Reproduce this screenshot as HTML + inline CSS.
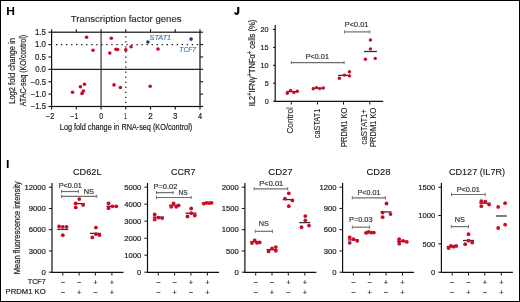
<!DOCTYPE html>
<html><head><meta charset="utf-8"><title>Figure</title>
<style>
html,body{margin:0;padding:0;background:#fff;}
body{width:520px;height:302px;overflow:hidden;}
svg{display:block;font-family:"Liberation Sans", sans-serif;will-change:transform;}
</style></head>
<body>
<svg width="520" height="302" viewBox="0 0 520 302">
<rect x="0.5" y="0.5" width="519" height="301" fill="#fff" stroke="#000" stroke-width="1"/>
<text x="6.17" y="14.80" font-size="10.8" fill="#000" textLength="8.69" lengthAdjust="spacingAndGlyphs" font-weight="bold">H</text>
<text x="70.86" y="22.00" font-size="9.6" fill="#222" textLength="110.72" lengthAdjust="spacingAndGlyphs" stroke="#222" stroke-width="0.1">Transcription factor genes</text>
<line x1="56.0" y1="44.58" x2="200" y2="44.58" stroke="#111" stroke-width="1.25" stroke-dasharray="1.25 3.78"/>
<line x1="125.80" y1="36.2" x2="125.80" y2="106" stroke="#111" stroke-width="1.25" stroke-dasharray="1.25 3.8"/>
<line x1="51.60" y1="69.35" x2="200.00" y2="69.35" stroke="#222" stroke-width="1.1"/>
<line x1="101.07" y1="32.20" x2="101.07" y2="106.50" stroke="#222" stroke-width="1.1"/>
<rect x="51.6" y="32.2" width="148.4" height="74.3" fill="none" stroke="#111" stroke-width="1.2"/>
<line x1="48.40" y1="32.19" x2="51.60" y2="32.19" stroke="#111" stroke-width="1.1"/>
<line x1="200.00" y1="32.19" x2="203.10" y2="32.19" stroke="#111" stroke-width="1.1"/>
<line x1="48.40" y1="44.58" x2="51.60" y2="44.58" stroke="#111" stroke-width="1.1"/>
<line x1="200.00" y1="44.58" x2="203.10" y2="44.58" stroke="#111" stroke-width="1.1"/>
<line x1="48.40" y1="56.96" x2="51.60" y2="56.96" stroke="#111" stroke-width="1.1"/>
<line x1="200.00" y1="56.96" x2="203.10" y2="56.96" stroke="#111" stroke-width="1.1"/>
<line x1="48.40" y1="69.35" x2="51.60" y2="69.35" stroke="#111" stroke-width="1.1"/>
<line x1="200.00" y1="69.35" x2="203.10" y2="69.35" stroke="#111" stroke-width="1.1"/>
<line x1="48.40" y1="81.73" x2="51.60" y2="81.73" stroke="#111" stroke-width="1.1"/>
<line x1="200.00" y1="81.73" x2="203.10" y2="81.73" stroke="#111" stroke-width="1.1"/>
<line x1="48.40" y1="94.12" x2="51.60" y2="94.12" stroke="#111" stroke-width="1.1"/>
<line x1="200.00" y1="94.12" x2="203.10" y2="94.12" stroke="#111" stroke-width="1.1"/>
<line x1="48.40" y1="106.50" x2="51.60" y2="106.50" stroke="#111" stroke-width="1.1"/>
<line x1="200.00" y1="106.50" x2="203.10" y2="106.50" stroke="#111" stroke-width="1.1"/>
<line x1="51.60" y1="106.50" x2="51.60" y2="109.60" stroke="#111" stroke-width="1.1"/>
<line x1="51.60" y1="29.20" x2="51.60" y2="32.20" stroke="#111" stroke-width="1.1"/>
<line x1="76.33" y1="106.50" x2="76.33" y2="109.60" stroke="#111" stroke-width="1.1"/>
<line x1="76.33" y1="29.20" x2="76.33" y2="32.20" stroke="#111" stroke-width="1.1"/>
<line x1="101.07" y1="106.50" x2="101.07" y2="109.60" stroke="#111" stroke-width="1.1"/>
<line x1="101.07" y1="29.20" x2="101.07" y2="32.20" stroke="#111" stroke-width="1.1"/>
<line x1="125.80" y1="106.50" x2="125.80" y2="109.60" stroke="#111" stroke-width="1.1"/>
<line x1="125.80" y1="29.20" x2="125.80" y2="32.20" stroke="#111" stroke-width="1.1"/>
<line x1="150.53" y1="106.50" x2="150.53" y2="109.60" stroke="#111" stroke-width="1.1"/>
<line x1="150.53" y1="29.20" x2="150.53" y2="32.20" stroke="#111" stroke-width="1.1"/>
<line x1="175.27" y1="106.50" x2="175.27" y2="109.60" stroke="#111" stroke-width="1.1"/>
<line x1="175.27" y1="29.20" x2="175.27" y2="32.20" stroke="#111" stroke-width="1.1"/>
<line x1="200.00" y1="106.50" x2="200.00" y2="109.60" stroke="#111" stroke-width="1.1"/>
<line x1="200.00" y1="29.20" x2="200.00" y2="32.20" stroke="#111" stroke-width="1.1"/>
<text x="34.96" y="35.04" font-size="8.5" fill="#222" textLength="11.01" lengthAdjust="spacingAndGlyphs" stroke="#222" stroke-width="0.2">1.5</text>
<text x="34.96" y="47.43" font-size="8.5" fill="#222" textLength="11.01" lengthAdjust="spacingAndGlyphs" stroke="#222" stroke-width="0.2">1.0</text>
<text x="35.04" y="59.81" font-size="8.5" fill="#222" textLength="10.93" lengthAdjust="spacingAndGlyphs" stroke="#222" stroke-width="0.2">0.5</text>
<text x="35.14" y="72.20" font-size="8.5" fill="#222" textLength="10.82" lengthAdjust="spacingAndGlyphs" stroke="#222" stroke-width="0.2">0.0</text>
<text x="30.77" y="84.58" font-size="8.5" fill="#222" textLength="15.19" lengthAdjust="spacingAndGlyphs" stroke="#222" stroke-width="0.2">−0.5</text>
<text x="30.77" y="96.97" font-size="8.5" fill="#222" textLength="15.19" lengthAdjust="spacingAndGlyphs" stroke="#222" stroke-width="0.2">−1.0</text>
<text x="30.77" y="109.35" font-size="8.5" fill="#222" textLength="15.19" lengthAdjust="spacingAndGlyphs" stroke="#222" stroke-width="0.2">−1.5</text>
<text x="45.77" y="118.80" font-size="8.5" fill="#222" textLength="8.55" lengthAdjust="spacingAndGlyphs" stroke="#222" stroke-width="0.2">−2</text>
<text x="70.50" y="118.80" font-size="8.5" fill="#222" textLength="7.89" lengthAdjust="spacingAndGlyphs" stroke="#222" stroke-width="0.2">−1</text>
<text x="99.17" y="118.80" font-size="8.5" fill="#222" textLength="3.86" lengthAdjust="spacingAndGlyphs" stroke="#222" stroke-width="0.2">0</text>
<text x="124.32" y="118.80" font-size="8.5" fill="#222" textLength="2.46" lengthAdjust="spacingAndGlyphs" stroke="#222" stroke-width="0.2">1</text>
<text x="148.34" y="118.80" font-size="8.5" fill="#222" textLength="4.52" lengthAdjust="spacingAndGlyphs" stroke="#222" stroke-width="0.2">2</text>
<text x="172.94" y="118.80" font-size="8.5" fill="#222" textLength="4.38" lengthAdjust="spacingAndGlyphs" stroke="#222" stroke-width="0.2">3</text>
<text x="197.97" y="118.80" font-size="8.5" fill="#222" textLength="4.12" lengthAdjust="spacingAndGlyphs" stroke="#222" stroke-width="0.2">4</text>
<text x="59.87" y="129.90" font-size="8.7" fill="#222" textLength="132.33" lengthAdjust="spacingAndGlyphs" stroke="#222" stroke-width="0.2">Log fold change in RNA-seq (KO/control)</text>
<text transform="translate(15.00,103.75) rotate(-90)" font-size="8.7" fill="#222" textLength="65.69" lengthAdjust="spacingAndGlyphs" stroke="#222" stroke-width="0.2">Log2 fold change in</text>
<text transform="translate(25.90,106.19) rotate(-90)" font-size="8.7" fill="#222" textLength="71.37" lengthAdjust="spacingAndGlyphs" stroke="#222" stroke-width="0.2">ATAC-seq (KO/control)</text>
<circle cx="86.60" cy="37.30" r="1.8" fill="#cc0a28"/>
<circle cx="93.00" cy="50.30" r="1.8" fill="#cc0a28"/>
<circle cx="111.30" cy="38.30" r="1.8" fill="#cc0a28"/>
<circle cx="109.80" cy="53.10" r="1.8" fill="#cc0a28"/>
<circle cx="115.90" cy="49.20" r="1.8" fill="#cc0a28"/>
<circle cx="117.60" cy="49.50" r="1.8" fill="#cc0a28"/>
<circle cx="125.80" cy="49.90" r="1.8" fill="#cc0a28"/>
<circle cx="131.10" cy="46.80" r="1.8" fill="#cc0a28"/>
<circle cx="158.00" cy="49.10" r="1.8" fill="#cc0a28"/>
<circle cx="72.50" cy="92.20" r="1.8" fill="#cc0a28"/>
<circle cx="80.40" cy="86.80" r="1.8" fill="#cc0a28"/>
<circle cx="84.50" cy="84.20" r="1.8" fill="#cc0a28"/>
<circle cx="83.40" cy="91.10" r="1.8" fill="#cc0a28"/>
<circle cx="82.00" cy="93.40" r="1.8" fill="#cc0a28"/>
<circle cx="114.00" cy="84.90" r="1.8" fill="#cc0a28"/>
<circle cx="120.40" cy="87.50" r="1.8" fill="#cc0a28"/>
<circle cx="150.20" cy="86.30" r="1.8" fill="#cc0a28"/>
<circle cx="147.90" cy="42.00" r="1.8" fill="#0d3f87"/>
<circle cx="191.10" cy="39.10" r="1.8" fill="#0d3f87"/>
<text x="149.53" y="39.90" font-size="7.8" fill="#3a74b6" textLength="21.67" lengthAdjust="spacingAndGlyphs" font-style="italic" stroke="#3a74b6" stroke-width="0.15">STAT1</text>
<text x="179.35" y="52.40" font-size="7.8" fill="#3a74b6" textLength="16.70" lengthAdjust="spacingAndGlyphs" font-style="italic" stroke="#3a74b6" stroke-width="0.15">TCF7</text>
<path d="M238.25 7.1 V12.1 Q238.25 13.85 236.45 13.85 Q235.3 13.85 234.95 12.5" fill="none" stroke="#000" stroke-width="2.1"/>
<line x1="275.20" y1="24.90" x2="275.20" y2="101.90" stroke="#111" stroke-width="1.2"/>
<line x1="274.60" y1="101.30" x2="383.20" y2="101.30" stroke="#111" stroke-width="1.2"/>
<line x1="273.00" y1="101.20" x2="275.20" y2="101.20" stroke="#111" stroke-width="1.0"/>
<text x="264.63" y="103.80" font-size="7.6" fill="#222" textLength="4.02" lengthAdjust="spacingAndGlyphs" stroke="#222" stroke-width="0.2">0</text>
<line x1="273.00" y1="83.28" x2="275.20" y2="83.28" stroke="#111" stroke-width="1.0"/>
<text x="264.63" y="85.88" font-size="7.6" fill="#222" textLength="4.02" lengthAdjust="spacingAndGlyphs" stroke="#222" stroke-width="0.2">5</text>
<line x1="273.00" y1="65.35" x2="275.20" y2="65.35" stroke="#111" stroke-width="1.0"/>
<text x="260.62" y="67.95" font-size="7.6" fill="#222" textLength="8.03" lengthAdjust="spacingAndGlyphs" stroke="#222" stroke-width="0.2">10</text>
<line x1="273.00" y1="47.43" x2="275.20" y2="47.43" stroke="#111" stroke-width="1.0"/>
<text x="260.62" y="50.03" font-size="7.6" fill="#222" textLength="8.03" lengthAdjust="spacingAndGlyphs" stroke="#222" stroke-width="0.2">15</text>
<line x1="273.00" y1="29.50" x2="275.20" y2="29.50" stroke="#111" stroke-width="1.0"/>
<text x="260.62" y="32.10" font-size="7.6" fill="#222" textLength="8.03" lengthAdjust="spacingAndGlyphs" stroke="#222" stroke-width="0.2">20</text>
<line x1="291.30" y1="101.30" x2="291.30" y2="104.50" stroke="#111" stroke-width="1.0"/>
<line x1="317.50" y1="101.30" x2="317.50" y2="104.50" stroke="#111" stroke-width="1.0"/>
<line x1="343.50" y1="101.30" x2="343.50" y2="104.50" stroke="#111" stroke-width="1.0"/>
<line x1="369.80" y1="101.30" x2="369.80" y2="104.50" stroke="#111" stroke-width="1.0"/>
<line x1="286.30" y1="91.60" x2="298.00" y2="91.60" stroke="#333" stroke-width="1.3"/>
<line x1="312.00" y1="88.30" x2="324.50" y2="88.30" stroke="#333" stroke-width="1.3"/>
<line x1="338.00" y1="75.40" x2="350.50" y2="75.40" stroke="#333" stroke-width="1.3"/>
<line x1="364.00" y1="51.50" x2="376.90" y2="51.50" stroke="#333" stroke-width="1.3"/>
<circle cx="287.30" cy="93.30" r="1.7" fill="#cc0a28"/>
<circle cx="290.60" cy="90.50" r="1.7" fill="#cc0a28"/>
<circle cx="293.90" cy="92.40" r="1.7" fill="#cc0a28"/>
<circle cx="297.30" cy="91.20" r="1.7" fill="#cc0a28"/>
<circle cx="313.30" cy="88.80" r="1.7" fill="#cc0a28"/>
<circle cx="316.50" cy="87.60" r="1.7" fill="#cc0a28"/>
<circle cx="319.80" cy="88.60" r="1.7" fill="#cc0a28"/>
<circle cx="323.30" cy="88.00" r="1.7" fill="#cc0a28"/>
<circle cx="339.40" cy="78.20" r="1.7" fill="#cc0a28"/>
<circle cx="344.40" cy="75.10" r="1.7" fill="#cc0a28"/>
<circle cx="349.40" cy="71.70" r="1.7" fill="#cc0a28"/>
<circle cx="349.40" cy="75.90" r="1.7" fill="#cc0a28"/>
<circle cx="370.40" cy="40.00" r="1.7" fill="#cc0a28"/>
<circle cx="370.40" cy="48.90" r="1.7" fill="#cc0a28"/>
<circle cx="365.40" cy="59.20" r="1.7" fill="#cc0a28"/>
<circle cx="375.20" cy="58.40" r="1.7" fill="#cc0a28"/>
<line x1="291.30" y1="62.60" x2="344.10" y2="62.60" stroke="#707070" stroke-width="1.2"/>
<line x1="291.30" y1="61.00" x2="291.30" y2="64.20" stroke="#707070" stroke-width="1.0"/>
<line x1="344.10" y1="61.00" x2="344.10" y2="64.20" stroke="#707070" stroke-width="1.0"/>
<text x="305.77" y="58.80" font-size="7.6" fill="#333" textLength="23.16" lengthAdjust="spacingAndGlyphs" stroke="#333" stroke-width="0.2">P&lt;0.01</text>
<line x1="344.40" y1="31.90" x2="369.80" y2="31.90" stroke="#707070" stroke-width="1.2"/>
<line x1="344.40" y1="30.30" x2="344.40" y2="33.50" stroke="#707070" stroke-width="1.0"/>
<line x1="369.80" y1="30.30" x2="369.80" y2="33.50" stroke="#707070" stroke-width="1.0"/>
<text x="344.76" y="27.40" font-size="7.6" fill="#333" textLength="23.68" lengthAdjust="spacingAndGlyphs" stroke="#333" stroke-width="0.2">P&lt;0.01</text>
<text transform="translate(293.30,133.56) rotate(-90)" font-size="8.3" fill="#222" textLength="26.37" lengthAdjust="spacingAndGlyphs" stroke="#222" stroke-width="0.1">Control</text>
<text transform="translate(320.00,138.28) rotate(-90)" font-size="8.3" fill="#222" textLength="29.60" lengthAdjust="spacingAndGlyphs" stroke="#222" stroke-width="0.1">caSTAT1</text>
<text transform="translate(346.90,146.95) rotate(-90)" font-size="8.3" fill="#222" textLength="39.26" lengthAdjust="spacingAndGlyphs" stroke="#222" stroke-width="0.1">PRDM1 KO</text>
<text transform="translate(366.60,144.39) rotate(-90)" font-size="8.3" fill="#222" textLength="35.22" lengthAdjust="spacingAndGlyphs" stroke="#222" stroke-width="0.1">caSTAT1+</text>
<text transform="translate(375.70,146.95) rotate(-90)" font-size="8.3" fill="#222" textLength="39.26" lengthAdjust="spacingAndGlyphs" stroke="#222" stroke-width="0.1">PRDM1 KO</text>
<text transform="translate(254.90,106.20) rotate(-90)" font-size="9.6" fill="#222" textLength="86.40" lengthAdjust="spacingAndGlyphs" stroke="#222" stroke-width="0.2">IL2<tspan font-size="7.2" dy="-3.0">+</tspan><tspan dy="3.0">IFNγ</tspan><tspan font-size="7.2" dy="-3.0">+</tspan><tspan dy="3.0">TNFα</tspan><tspan font-size="7.2" dy="-3.0">+</tspan><tspan dy="3.0"> cells (%)</tspan></text>
<text x="6.04" y="167.80" font-size="10.8" fill="#000" textLength="3.45" lengthAdjust="spacingAndGlyphs" font-weight="bold">I</text>
<text transform="translate(20.00,274.15) rotate(-90)" font-size="8.2" fill="#222" textLength="92.94" lengthAdjust="spacingAndGlyphs" stroke="#222" stroke-width="0.2">Mean fluorescence intensity</text>
<text x="27.81" y="283.90" font-size="7.6" fill="#222" textLength="17.90" lengthAdjust="spacingAndGlyphs" stroke="#222" stroke-width="0.2">TCF7</text>
<text x="5.64" y="294.00" font-size="7.6" fill="#222" textLength="40.08" lengthAdjust="spacingAndGlyphs" stroke="#222" stroke-width="0.2">PRDM1 KO</text>
<text x="72.99" y="175.40" font-size="9.8" fill="#111" textLength="28.56" lengthAdjust="spacingAndGlyphs" stroke="#111" stroke-width="0.1">CD62L</text>
<line x1="52.00" y1="183.00" x2="52.00" y2="272.80" stroke="#111" stroke-width="1.2"/>
<line x1="51.40" y1="272.40" x2="123.50" y2="272.40" stroke="#111" stroke-width="1.2"/>
<line x1="48.90" y1="272.20" x2="52.00" y2="272.20" stroke="#111" stroke-width="1.0"/>
<text x="41.60" y="274.95" font-size="7.9" fill="#222" textLength="4.26" lengthAdjust="spacingAndGlyphs" stroke="#222" stroke-width="0.2">0</text>
<line x1="48.90" y1="250.95" x2="52.00" y2="250.95" stroke="#111" stroke-width="1.0"/>
<text x="28.81" y="253.70" font-size="7.9" fill="#222" textLength="17.05" lengthAdjust="spacingAndGlyphs" stroke="#222" stroke-width="0.2">3000</text>
<line x1="48.90" y1="229.70" x2="52.00" y2="229.70" stroke="#111" stroke-width="1.0"/>
<text x="28.81" y="232.45" font-size="7.9" fill="#222" textLength="17.05" lengthAdjust="spacingAndGlyphs" stroke="#222" stroke-width="0.2">6000</text>
<line x1="48.90" y1="208.45" x2="52.00" y2="208.45" stroke="#111" stroke-width="1.0"/>
<text x="28.81" y="211.20" font-size="7.9" fill="#222" textLength="17.05" lengthAdjust="spacingAndGlyphs" stroke="#222" stroke-width="0.2">9000</text>
<line x1="48.90" y1="187.20" x2="52.00" y2="187.20" stroke="#111" stroke-width="1.0"/>
<text x="24.55" y="189.95" font-size="7.9" fill="#222" textLength="21.31" lengthAdjust="spacingAndGlyphs" stroke="#222" stroke-width="0.2">12000</text>
<line x1="62.80" y1="272.20" x2="62.80" y2="275.50" stroke="#111" stroke-width="1.0"/>
<text x="62.80" y="284.60" font-size="7.4" text-anchor="middle" fill="#333" stroke="#333" stroke-width="0.2">−</text>
<text x="62.80" y="295.30" font-size="7.4" text-anchor="middle" fill="#333" stroke="#333" stroke-width="0.2">−</text>
<line x1="79.10" y1="272.20" x2="79.10" y2="275.50" stroke="#111" stroke-width="1.0"/>
<text x="79.10" y="284.60" font-size="7.4" text-anchor="middle" fill="#333" stroke="#333" stroke-width="0.2">−</text>
<text x="79.10" y="295.30" font-size="7.4" text-anchor="middle" fill="#333" stroke="#333" stroke-width="0.2">+</text>
<line x1="95.40" y1="272.20" x2="95.40" y2="275.50" stroke="#111" stroke-width="1.0"/>
<text x="95.40" y="284.60" font-size="7.4" text-anchor="middle" fill="#333" stroke="#333" stroke-width="0.2">+</text>
<text x="95.40" y="295.30" font-size="7.4" text-anchor="middle" fill="#333" stroke="#333" stroke-width="0.2">−</text>
<line x1="111.90" y1="272.20" x2="111.90" y2="275.50" stroke="#111" stroke-width="1.0"/>
<text x="111.90" y="284.60" font-size="7.4" text-anchor="middle" fill="#333" stroke="#333" stroke-width="0.2">+</text>
<text x="111.90" y="295.30" font-size="7.4" text-anchor="middle" fill="#333" stroke="#333" stroke-width="0.2">+</text>
<line x1="57.30" y1="229.40" x2="68.30" y2="229.40" stroke="#333" stroke-width="1.3"/>
<line x1="73.60" y1="203.60" x2="84.60" y2="203.60" stroke="#333" stroke-width="1.3"/>
<line x1="89.90" y1="233.40" x2="100.90" y2="233.40" stroke="#333" stroke-width="1.3"/>
<line x1="106.40" y1="206.30" x2="117.40" y2="206.30" stroke="#333" stroke-width="1.3"/>
<circle cx="59.10" cy="226.50" r="1.9" fill="#cc0a28"/>
<circle cx="62.80" cy="226.80" r="1.9" fill="#cc0a28"/>
<circle cx="66.60" cy="226.80" r="1.9" fill="#cc0a28"/>
<circle cx="62.80" cy="235.20" r="1.9" fill="#cc0a28"/>
<circle cx="79.30" cy="199.10" r="1.9" fill="#cc0a28"/>
<circle cx="75.70" cy="203.30" r="1.9" fill="#cc0a28"/>
<circle cx="83.10" cy="204.90" r="1.9" fill="#cc0a28"/>
<circle cx="75.70" cy="207.40" r="1.9" fill="#cc0a28"/>
<circle cx="95.90" cy="227.60" r="1.9" fill="#cc0a28"/>
<circle cx="95.90" cy="234.20" r="1.9" fill="#cc0a28"/>
<circle cx="99.40" cy="235.10" r="1.9" fill="#cc0a28"/>
<circle cx="92.30" cy="237.40" r="1.9" fill="#cc0a28"/>
<circle cx="108.50" cy="203.30" r="1.9" fill="#cc0a28"/>
<circle cx="108.50" cy="208.20" r="1.9" fill="#cc0a28"/>
<circle cx="112.40" cy="206.30" r="1.9" fill="#cc0a28"/>
<circle cx="116.30" cy="206.30" r="1.9" fill="#cc0a28"/>
<text x="58.67" y="187.60" font-size="7.6" fill="#333" textLength="23.16" lengthAdjust="spacingAndGlyphs" stroke="#333" stroke-width="0.2">P&lt;0.01</text>
<line x1="61.50" y1="191.50" x2="78.40" y2="191.50" stroke="#707070" stroke-width="1.2"/>
<line x1="61.50" y1="189.90" x2="61.50" y2="193.10" stroke="#707070" stroke-width="1.0"/>
<line x1="78.40" y1="189.90" x2="78.40" y2="193.10" stroke="#707070" stroke-width="1.0"/>
<text x="83.65" y="193.70" font-size="7.6" fill="#333" textLength="10.36" lengthAdjust="spacingAndGlyphs" stroke="#333" stroke-width="0.2">NS</text>
<line x1="61.50" y1="196.30" x2="96.80" y2="196.30" stroke="#707070" stroke-width="1.2"/>
<line x1="61.50" y1="194.70" x2="61.50" y2="197.90" stroke="#707070" stroke-width="1.0"/>
<line x1="96.80" y1="194.70" x2="96.80" y2="197.90" stroke="#707070" stroke-width="1.0"/>
<text x="171.00" y="175.40" font-size="9.8" fill="#111" textLength="24.42" lengthAdjust="spacingAndGlyphs" stroke="#111" stroke-width="0.1">CCR7</text>
<line x1="147.50" y1="183.00" x2="147.50" y2="272.80" stroke="#111" stroke-width="1.2"/>
<line x1="146.90" y1="272.40" x2="219.00" y2="272.40" stroke="#111" stroke-width="1.2"/>
<line x1="144.40" y1="272.20" x2="147.50" y2="272.20" stroke="#111" stroke-width="1.0"/>
<text x="137.10" y="274.95" font-size="7.9" fill="#222" textLength="4.26" lengthAdjust="spacingAndGlyphs" stroke="#222" stroke-width="0.2">0</text>
<line x1="144.40" y1="255.20" x2="147.50" y2="255.20" stroke="#111" stroke-width="1.0"/>
<text x="124.31" y="257.95" font-size="7.9" fill="#222" textLength="17.05" lengthAdjust="spacingAndGlyphs" stroke="#222" stroke-width="0.2">1000</text>
<line x1="144.40" y1="238.20" x2="147.50" y2="238.20" stroke="#111" stroke-width="1.0"/>
<text x="124.31" y="240.95" font-size="7.9" fill="#222" textLength="17.05" lengthAdjust="spacingAndGlyphs" stroke="#222" stroke-width="0.2">2000</text>
<line x1="144.40" y1="221.20" x2="147.50" y2="221.20" stroke="#111" stroke-width="1.0"/>
<text x="124.31" y="223.95" font-size="7.9" fill="#222" textLength="17.05" lengthAdjust="spacingAndGlyphs" stroke="#222" stroke-width="0.2">3000</text>
<line x1="144.40" y1="204.20" x2="147.50" y2="204.20" stroke="#111" stroke-width="1.0"/>
<text x="124.31" y="206.95" font-size="7.9" fill="#222" textLength="17.05" lengthAdjust="spacingAndGlyphs" stroke="#222" stroke-width="0.2">4000</text>
<line x1="144.40" y1="187.20" x2="147.50" y2="187.20" stroke="#111" stroke-width="1.0"/>
<text x="124.31" y="189.95" font-size="7.9" fill="#222" textLength="17.05" lengthAdjust="spacingAndGlyphs" stroke="#222" stroke-width="0.2">5000</text>
<line x1="158.30" y1="272.20" x2="158.30" y2="275.50" stroke="#111" stroke-width="1.0"/>
<text x="158.30" y="284.60" font-size="7.4" text-anchor="middle" fill="#333" stroke="#333" stroke-width="0.2">−</text>
<text x="158.30" y="295.30" font-size="7.4" text-anchor="middle" fill="#333" stroke="#333" stroke-width="0.2">−</text>
<line x1="174.60" y1="272.20" x2="174.60" y2="275.50" stroke="#111" stroke-width="1.0"/>
<text x="174.60" y="284.60" font-size="7.4" text-anchor="middle" fill="#333" stroke="#333" stroke-width="0.2">−</text>
<text x="174.60" y="295.30" font-size="7.4" text-anchor="middle" fill="#333" stroke="#333" stroke-width="0.2">+</text>
<line x1="190.90" y1="272.20" x2="190.90" y2="275.50" stroke="#111" stroke-width="1.0"/>
<text x="190.90" y="284.60" font-size="7.4" text-anchor="middle" fill="#333" stroke="#333" stroke-width="0.2">+</text>
<text x="190.90" y="295.30" font-size="7.4" text-anchor="middle" fill="#333" stroke="#333" stroke-width="0.2">−</text>
<line x1="207.40" y1="272.20" x2="207.40" y2="275.50" stroke="#111" stroke-width="1.0"/>
<text x="207.40" y="284.60" font-size="7.4" text-anchor="middle" fill="#333" stroke="#333" stroke-width="0.2">+</text>
<text x="207.40" y="295.30" font-size="7.4" text-anchor="middle" fill="#333" stroke="#333" stroke-width="0.2">+</text>
<line x1="152.80" y1="217.20" x2="163.80" y2="217.20" stroke="#333" stroke-width="1.3"/>
<line x1="169.10" y1="205.20" x2="180.10" y2="205.20" stroke="#333" stroke-width="1.3"/>
<line x1="185.40" y1="213.20" x2="196.40" y2="213.20" stroke="#333" stroke-width="1.3"/>
<line x1="201.90" y1="203.00" x2="212.90" y2="203.00" stroke="#333" stroke-width="1.3"/>
<circle cx="154.70" cy="214.50" r="1.9" fill="#cc0a28"/>
<circle cx="154.70" cy="219.60" r="1.9" fill="#cc0a28"/>
<circle cx="158.50" cy="217.60" r="1.9" fill="#cc0a28"/>
<circle cx="162.10" cy="218.10" r="1.9" fill="#cc0a28"/>
<circle cx="173.50" cy="203.30" r="1.9" fill="#cc0a28"/>
<circle cx="171.20" cy="206.80" r="1.9" fill="#cc0a28"/>
<circle cx="176.20" cy="206.80" r="1.9" fill="#cc0a28"/>
<circle cx="178.60" cy="205.40" r="1.9" fill="#cc0a28"/>
<circle cx="191.20" cy="208.50" r="1.9" fill="#cc0a28"/>
<circle cx="191.20" cy="213.20" r="1.9" fill="#cc0a28"/>
<circle cx="187.50" cy="216.50" r="1.9" fill="#cc0a28"/>
<circle cx="194.80" cy="215.50" r="1.9" fill="#cc0a28"/>
<circle cx="203.80" cy="203.70" r="1.9" fill="#cc0a28"/>
<circle cx="206.60" cy="202.80" r="1.9" fill="#cc0a28"/>
<circle cx="209.30" cy="203.10" r="1.9" fill="#cc0a28"/>
<circle cx="211.60" cy="202.80" r="1.9" fill="#cc0a28"/>
<text x="153.45" y="188.50" font-size="7.6" fill="#333" textLength="23.89" lengthAdjust="spacingAndGlyphs" stroke="#333" stroke-width="0.2">P=0.02</text>
<line x1="156.50" y1="192.60" x2="173.10" y2="192.60" stroke="#707070" stroke-width="1.2"/>
<line x1="156.50" y1="191.00" x2="156.50" y2="194.20" stroke="#707070" stroke-width="1.0"/>
<line x1="173.10" y1="191.00" x2="173.10" y2="194.20" stroke="#707070" stroke-width="1.0"/>
<text x="178.62" y="194.90" font-size="7.6" fill="#333" textLength="9.15" lengthAdjust="spacingAndGlyphs" stroke="#333" stroke-width="0.2">NS</text>
<line x1="156.50" y1="197.50" x2="191.20" y2="197.50" stroke="#707070" stroke-width="1.2"/>
<line x1="156.50" y1="195.90" x2="156.50" y2="199.10" stroke="#707070" stroke-width="1.0"/>
<line x1="191.20" y1="195.90" x2="191.20" y2="199.10" stroke="#707070" stroke-width="1.0"/>
<text x="268.27" y="175.40" font-size="9.8" fill="#111" textLength="24.37" lengthAdjust="spacingAndGlyphs" stroke="#111" stroke-width="0.1">CD27</text>
<line x1="244.90" y1="183.00" x2="244.90" y2="272.80" stroke="#111" stroke-width="1.2"/>
<line x1="244.30" y1="272.40" x2="316.40" y2="272.40" stroke="#111" stroke-width="1.2"/>
<line x1="241.80" y1="272.20" x2="244.90" y2="272.20" stroke="#111" stroke-width="1.0"/>
<text x="234.50" y="274.95" font-size="7.9" fill="#222" textLength="4.26" lengthAdjust="spacingAndGlyphs" stroke="#222" stroke-width="0.2">0</text>
<line x1="241.80" y1="250.95" x2="244.90" y2="250.95" stroke="#111" stroke-width="1.0"/>
<text x="226.00" y="253.70" font-size="7.9" fill="#222" textLength="12.79" lengthAdjust="spacingAndGlyphs" stroke="#222" stroke-width="0.2">500</text>
<line x1="241.80" y1="229.70" x2="244.90" y2="229.70" stroke="#111" stroke-width="1.0"/>
<text x="221.71" y="232.45" font-size="7.9" fill="#222" textLength="17.05" lengthAdjust="spacingAndGlyphs" stroke="#222" stroke-width="0.2">1000</text>
<line x1="241.80" y1="208.45" x2="244.90" y2="208.45" stroke="#111" stroke-width="1.0"/>
<text x="221.71" y="211.20" font-size="7.9" fill="#222" textLength="17.05" lengthAdjust="spacingAndGlyphs" stroke="#222" stroke-width="0.2">1500</text>
<line x1="241.80" y1="187.20" x2="244.90" y2="187.20" stroke="#111" stroke-width="1.0"/>
<text x="221.71" y="189.95" font-size="7.9" fill="#222" textLength="17.05" lengthAdjust="spacingAndGlyphs" stroke="#222" stroke-width="0.2">2000</text>
<line x1="255.70" y1="272.20" x2="255.70" y2="275.50" stroke="#111" stroke-width="1.0"/>
<text x="255.70" y="284.60" font-size="7.4" text-anchor="middle" fill="#333" stroke="#333" stroke-width="0.2">−</text>
<text x="255.70" y="295.30" font-size="7.4" text-anchor="middle" fill="#333" stroke="#333" stroke-width="0.2">−</text>
<line x1="272.00" y1="272.20" x2="272.00" y2="275.50" stroke="#111" stroke-width="1.0"/>
<text x="272.00" y="284.60" font-size="7.4" text-anchor="middle" fill="#333" stroke="#333" stroke-width="0.2">−</text>
<text x="272.00" y="295.30" font-size="7.4" text-anchor="middle" fill="#333" stroke="#333" stroke-width="0.2">+</text>
<line x1="288.30" y1="272.20" x2="288.30" y2="275.50" stroke="#111" stroke-width="1.0"/>
<text x="288.30" y="284.60" font-size="7.4" text-anchor="middle" fill="#333" stroke="#333" stroke-width="0.2">+</text>
<text x="288.30" y="295.30" font-size="7.4" text-anchor="middle" fill="#333" stroke="#333" stroke-width="0.2">−</text>
<line x1="304.80" y1="272.20" x2="304.80" y2="275.50" stroke="#111" stroke-width="1.0"/>
<text x="304.80" y="284.60" font-size="7.4" text-anchor="middle" fill="#333" stroke="#333" stroke-width="0.2">+</text>
<text x="304.80" y="295.30" font-size="7.4" text-anchor="middle" fill="#333" stroke="#333" stroke-width="0.2">+</text>
<line x1="250.20" y1="241.80" x2="261.20" y2="241.80" stroke="#333" stroke-width="1.3"/>
<line x1="266.50" y1="249.70" x2="277.50" y2="249.70" stroke="#333" stroke-width="1.3"/>
<line x1="282.80" y1="199.60" x2="293.80" y2="199.60" stroke="#333" stroke-width="1.3"/>
<line x1="299.30" y1="222.60" x2="310.30" y2="222.60" stroke="#333" stroke-width="1.3"/>
<circle cx="252.00" cy="243.10" r="1.9" fill="#cc0a28"/>
<circle cx="254.70" cy="240.40" r="1.9" fill="#cc0a28"/>
<circle cx="256.90" cy="242.80" r="1.9" fill="#cc0a28"/>
<circle cx="259.60" cy="242.40" r="1.9" fill="#cc0a28"/>
<circle cx="268.60" cy="251.40" r="1.9" fill="#cc0a28"/>
<circle cx="272.10" cy="248.40" r="1.9" fill="#cc0a28"/>
<circle cx="275.80" cy="247.10" r="1.9" fill="#cc0a28"/>
<circle cx="275.80" cy="250.80" r="1.9" fill="#cc0a28"/>
<circle cx="288.80" cy="193.30" r="1.9" fill="#cc0a28"/>
<circle cx="285.00" cy="198.60" r="1.9" fill="#cc0a28"/>
<circle cx="292.40" cy="200.40" r="1.9" fill="#cc0a28"/>
<circle cx="288.80" cy="206.20" r="1.9" fill="#cc0a28"/>
<circle cx="305.30" cy="216.10" r="1.9" fill="#cc0a28"/>
<circle cx="305.30" cy="220.30" r="1.9" fill="#cc0a28"/>
<circle cx="301.50" cy="227.20" r="1.9" fill="#cc0a28"/>
<circle cx="309.00" cy="225.60" r="1.9" fill="#cc0a28"/>
<text x="259.35" y="185.70" font-size="7.6" fill="#333" textLength="23.89" lengthAdjust="spacingAndGlyphs" stroke="#333" stroke-width="0.2">P&lt;0.01</text>
<line x1="254.20" y1="188.80" x2="287.70" y2="188.80" stroke="#707070" stroke-width="1.2"/>
<line x1="254.20" y1="187.20" x2="254.20" y2="190.40" stroke="#707070" stroke-width="1.0"/>
<line x1="287.70" y1="187.20" x2="287.70" y2="190.40" stroke="#707070" stroke-width="1.0"/>
<text x="258.87" y="225.90" font-size="7.6" fill="#333" textLength="10.03" lengthAdjust="spacingAndGlyphs" stroke="#333" stroke-width="0.2">NS</text>
<line x1="255.30" y1="231.30" x2="272.40" y2="231.30" stroke="#707070" stroke-width="1.2"/>
<line x1="255.30" y1="229.70" x2="255.30" y2="232.90" stroke="#707070" stroke-width="1.0"/>
<line x1="272.40" y1="229.70" x2="272.40" y2="232.90" stroke="#707070" stroke-width="1.0"/>
<text x="366.48" y="175.40" font-size="9.8" fill="#111" textLength="24.06" lengthAdjust="spacingAndGlyphs" stroke="#111" stroke-width="0.1">CD28</text>
<line x1="342.60" y1="183.00" x2="342.60" y2="272.80" stroke="#111" stroke-width="1.2"/>
<line x1="342.00" y1="272.40" x2="414.10" y2="272.40" stroke="#111" stroke-width="1.2"/>
<line x1="339.50" y1="272.20" x2="342.60" y2="272.20" stroke="#111" stroke-width="1.0"/>
<text x="332.20" y="274.95" font-size="7.9" fill="#222" textLength="4.26" lengthAdjust="spacingAndGlyphs" stroke="#222" stroke-width="0.2">0</text>
<line x1="339.50" y1="250.95" x2="342.60" y2="250.95" stroke="#111" stroke-width="1.0"/>
<text x="323.70" y="253.70" font-size="7.9" fill="#222" textLength="12.79" lengthAdjust="spacingAndGlyphs" stroke="#222" stroke-width="0.2">300</text>
<line x1="339.50" y1="229.70" x2="342.60" y2="229.70" stroke="#111" stroke-width="1.0"/>
<text x="323.70" y="232.45" font-size="7.9" fill="#222" textLength="12.79" lengthAdjust="spacingAndGlyphs" stroke="#222" stroke-width="0.2">600</text>
<line x1="339.50" y1="208.45" x2="342.60" y2="208.45" stroke="#111" stroke-width="1.0"/>
<text x="323.70" y="211.20" font-size="7.9" fill="#222" textLength="12.79" lengthAdjust="spacingAndGlyphs" stroke="#222" stroke-width="0.2">900</text>
<line x1="339.50" y1="187.20" x2="342.60" y2="187.20" stroke="#111" stroke-width="1.0"/>
<text x="319.41" y="189.95" font-size="7.9" fill="#222" textLength="17.05" lengthAdjust="spacingAndGlyphs" stroke="#222" stroke-width="0.2">1200</text>
<line x1="353.40" y1="272.20" x2="353.40" y2="275.50" stroke="#111" stroke-width="1.0"/>
<text x="353.40" y="284.60" font-size="7.4" text-anchor="middle" fill="#333" stroke="#333" stroke-width="0.2">−</text>
<text x="353.40" y="295.30" font-size="7.4" text-anchor="middle" fill="#333" stroke="#333" stroke-width="0.2">−</text>
<line x1="369.70" y1="272.20" x2="369.70" y2="275.50" stroke="#111" stroke-width="1.0"/>
<text x="369.70" y="284.60" font-size="7.4" text-anchor="middle" fill="#333" stroke="#333" stroke-width="0.2">−</text>
<text x="369.70" y="295.30" font-size="7.4" text-anchor="middle" fill="#333" stroke="#333" stroke-width="0.2">+</text>
<line x1="386.00" y1="272.20" x2="386.00" y2="275.50" stroke="#111" stroke-width="1.0"/>
<text x="386.00" y="284.60" font-size="7.4" text-anchor="middle" fill="#333" stroke="#333" stroke-width="0.2">+</text>
<text x="386.00" y="295.30" font-size="7.4" text-anchor="middle" fill="#333" stroke="#333" stroke-width="0.2">−</text>
<line x1="402.50" y1="272.20" x2="402.50" y2="275.50" stroke="#111" stroke-width="1.0"/>
<text x="402.50" y="284.60" font-size="7.4" text-anchor="middle" fill="#333" stroke="#333" stroke-width="0.2">+</text>
<text x="402.50" y="295.30" font-size="7.4" text-anchor="middle" fill="#333" stroke="#333" stroke-width="0.2">+</text>
<line x1="347.90" y1="239.90" x2="358.90" y2="239.90" stroke="#333" stroke-width="1.3"/>
<line x1="364.20" y1="232.50" x2="375.20" y2="232.50" stroke="#333" stroke-width="1.3"/>
<line x1="380.50" y1="211.90" x2="391.50" y2="211.90" stroke="#333" stroke-width="1.3"/>
<line x1="397.00" y1="241.40" x2="408.00" y2="241.40" stroke="#333" stroke-width="1.3"/>
<circle cx="349.70" cy="237.30" r="1.9" fill="#cc0a28"/>
<circle cx="349.70" cy="242.80" r="1.9" fill="#cc0a28"/>
<circle cx="353.50" cy="239.20" r="1.9" fill="#cc0a28"/>
<circle cx="357.20" cy="240.80" r="1.9" fill="#cc0a28"/>
<circle cx="366.20" cy="232.90" r="1.9" fill="#cc0a28"/>
<circle cx="368.50" cy="231.80" r="1.9" fill="#cc0a28"/>
<circle cx="371.10" cy="232.60" r="1.9" fill="#cc0a28"/>
<circle cx="373.80" cy="232.60" r="1.9" fill="#cc0a28"/>
<circle cx="386.50" cy="203.50" r="1.9" fill="#cc0a28"/>
<circle cx="382.60" cy="212.60" r="1.9" fill="#cc0a28"/>
<circle cx="390.50" cy="214.10" r="1.9" fill="#cc0a28"/>
<circle cx="382.60" cy="217.20" r="1.9" fill="#cc0a28"/>
<circle cx="399.20" cy="239.20" r="1.9" fill="#cc0a28"/>
<circle cx="399.20" cy="243.70" r="1.9" fill="#cc0a28"/>
<circle cx="403.20" cy="240.80" r="1.9" fill="#cc0a28"/>
<circle cx="406.80" cy="241.90" r="1.9" fill="#cc0a28"/>
<text x="357.58" y="195.20" font-size="7.6" fill="#333" textLength="22.95" lengthAdjust="spacingAndGlyphs" stroke="#333" stroke-width="0.2">P&lt;0.01</text>
<line x1="352.30" y1="197.80" x2="385.50" y2="197.80" stroke="#707070" stroke-width="1.2"/>
<line x1="352.30" y1="196.20" x2="352.30" y2="199.40" stroke="#707070" stroke-width="1.0"/>
<line x1="385.50" y1="196.20" x2="385.50" y2="199.40" stroke="#707070" stroke-width="1.0"/>
<text x="348.96" y="221.90" font-size="7.6" fill="#333" textLength="23.64" lengthAdjust="spacingAndGlyphs" stroke="#333" stroke-width="0.2">P=0.03</text>
<line x1="352.30" y1="227.20" x2="369.40" y2="227.20" stroke="#707070" stroke-width="1.2"/>
<line x1="352.30" y1="225.60" x2="352.30" y2="228.80" stroke="#707070" stroke-width="1.0"/>
<line x1="369.40" y1="225.60" x2="369.40" y2="228.80" stroke="#707070" stroke-width="1.0"/>
<text x="448.89" y="175.40" font-size="9.8" fill="#111" textLength="56.24" lengthAdjust="spacingAndGlyphs" stroke="#111" stroke-width="0.1">CD127 (IL7R)</text>
<line x1="441.40" y1="183.00" x2="441.40" y2="272.80" stroke="#111" stroke-width="1.2"/>
<line x1="440.80" y1="272.40" x2="512.90" y2="272.40" stroke="#111" stroke-width="1.2"/>
<line x1="438.30" y1="272.20" x2="441.40" y2="272.20" stroke="#111" stroke-width="1.0"/>
<text x="431.00" y="274.95" font-size="7.9" fill="#222" textLength="4.26" lengthAdjust="spacingAndGlyphs" stroke="#222" stroke-width="0.2">0</text>
<line x1="438.30" y1="243.87" x2="441.40" y2="243.87" stroke="#111" stroke-width="1.0"/>
<text x="422.50" y="246.62" font-size="7.9" fill="#222" textLength="12.79" lengthAdjust="spacingAndGlyphs" stroke="#222" stroke-width="0.2">500</text>
<line x1="438.30" y1="215.53" x2="441.40" y2="215.53" stroke="#111" stroke-width="1.0"/>
<text x="418.21" y="218.28" font-size="7.9" fill="#222" textLength="17.05" lengthAdjust="spacingAndGlyphs" stroke="#222" stroke-width="0.2">1000</text>
<line x1="438.30" y1="187.20" x2="441.40" y2="187.20" stroke="#111" stroke-width="1.0"/>
<text x="418.21" y="189.95" font-size="7.9" fill="#222" textLength="17.05" lengthAdjust="spacingAndGlyphs" stroke="#222" stroke-width="0.2">1500</text>
<line x1="452.20" y1="272.20" x2="452.20" y2="275.50" stroke="#111" stroke-width="1.0"/>
<text x="452.20" y="284.60" font-size="7.4" text-anchor="middle" fill="#333" stroke="#333" stroke-width="0.2">−</text>
<text x="452.20" y="295.30" font-size="7.4" text-anchor="middle" fill="#333" stroke="#333" stroke-width="0.2">−</text>
<line x1="468.50" y1="272.20" x2="468.50" y2="275.50" stroke="#111" stroke-width="1.0"/>
<text x="468.50" y="284.60" font-size="7.4" text-anchor="middle" fill="#333" stroke="#333" stroke-width="0.2">−</text>
<text x="468.50" y="295.30" font-size="7.4" text-anchor="middle" fill="#333" stroke="#333" stroke-width="0.2">+</text>
<line x1="484.80" y1="272.20" x2="484.80" y2="275.50" stroke="#111" stroke-width="1.0"/>
<text x="484.80" y="284.60" font-size="7.4" text-anchor="middle" fill="#333" stroke="#333" stroke-width="0.2">+</text>
<text x="484.80" y="295.30" font-size="7.4" text-anchor="middle" fill="#333" stroke="#333" stroke-width="0.2">−</text>
<line x1="501.30" y1="272.20" x2="501.30" y2="275.50" stroke="#111" stroke-width="1.0"/>
<text x="501.30" y="284.60" font-size="7.4" text-anchor="middle" fill="#333" stroke="#333" stroke-width="0.2">+</text>
<text x="501.30" y="295.30" font-size="7.4" text-anchor="middle" fill="#333" stroke="#333" stroke-width="0.2">+</text>
<line x1="446.70" y1="246.60" x2="457.70" y2="246.60" stroke="#333" stroke-width="1.3"/>
<line x1="463.00" y1="240.50" x2="474.00" y2="240.50" stroke="#333" stroke-width="1.3"/>
<line x1="479.30" y1="203.20" x2="490.30" y2="203.20" stroke="#333" stroke-width="1.3"/>
<line x1="495.80" y1="216.00" x2="506.80" y2="216.00" stroke="#333" stroke-width="1.3"/>
<circle cx="448.60" cy="248.00" r="1.9" fill="#cc0a28"/>
<circle cx="450.90" cy="245.90" r="1.9" fill="#cc0a28"/>
<circle cx="453.50" cy="246.70" r="1.9" fill="#cc0a28"/>
<circle cx="456.20" cy="245.90" r="1.9" fill="#cc0a28"/>
<circle cx="468.50" cy="234.20" r="1.9" fill="#cc0a28"/>
<circle cx="468.50" cy="240.70" r="1.9" fill="#cc0a28"/>
<circle cx="465.20" cy="244.20" r="1.9" fill="#cc0a28"/>
<circle cx="472.20" cy="242.50" r="1.9" fill="#cc0a28"/>
<circle cx="481.30" cy="201.20" r="1.9" fill="#cc0a28"/>
<circle cx="485.30" cy="201.60" r="1.9" fill="#cc0a28"/>
<circle cx="481.30" cy="206.20" r="1.9" fill="#cc0a28"/>
<circle cx="489.10" cy="204.50" r="1.9" fill="#cc0a28"/>
<circle cx="498.20" cy="206.90" r="1.9" fill="#cc0a28"/>
<circle cx="505.10" cy="203.20" r="1.9" fill="#cc0a28"/>
<circle cx="498.20" cy="228.00" r="1.9" fill="#cc0a28"/>
<circle cx="505.10" cy="224.70" r="1.9" fill="#cc0a28"/>
<text x="456.67" y="191.90" font-size="7.6" fill="#333" textLength="23.26" lengthAdjust="spacingAndGlyphs" stroke="#333" stroke-width="0.2">P&lt;0.01</text>
<line x1="451.50" y1="194.50" x2="485.20" y2="194.50" stroke="#707070" stroke-width="1.2"/>
<line x1="451.50" y1="192.90" x2="451.50" y2="196.10" stroke="#707070" stroke-width="1.0"/>
<line x1="485.20" y1="192.90" x2="485.20" y2="196.10" stroke="#707070" stroke-width="1.0"/>
<text x="454.87" y="221.70" font-size="7.6" fill="#333" textLength="10.14" lengthAdjust="spacingAndGlyphs" stroke="#333" stroke-width="0.2">NS</text>
<line x1="451.30" y1="226.60" x2="468.50" y2="226.60" stroke="#707070" stroke-width="1.2"/>
<line x1="451.30" y1="225.00" x2="451.30" y2="228.20" stroke="#707070" stroke-width="1.0"/>
<line x1="468.50" y1="225.00" x2="468.50" y2="228.20" stroke="#707070" stroke-width="1.0"/>
</svg>
</body></html>
